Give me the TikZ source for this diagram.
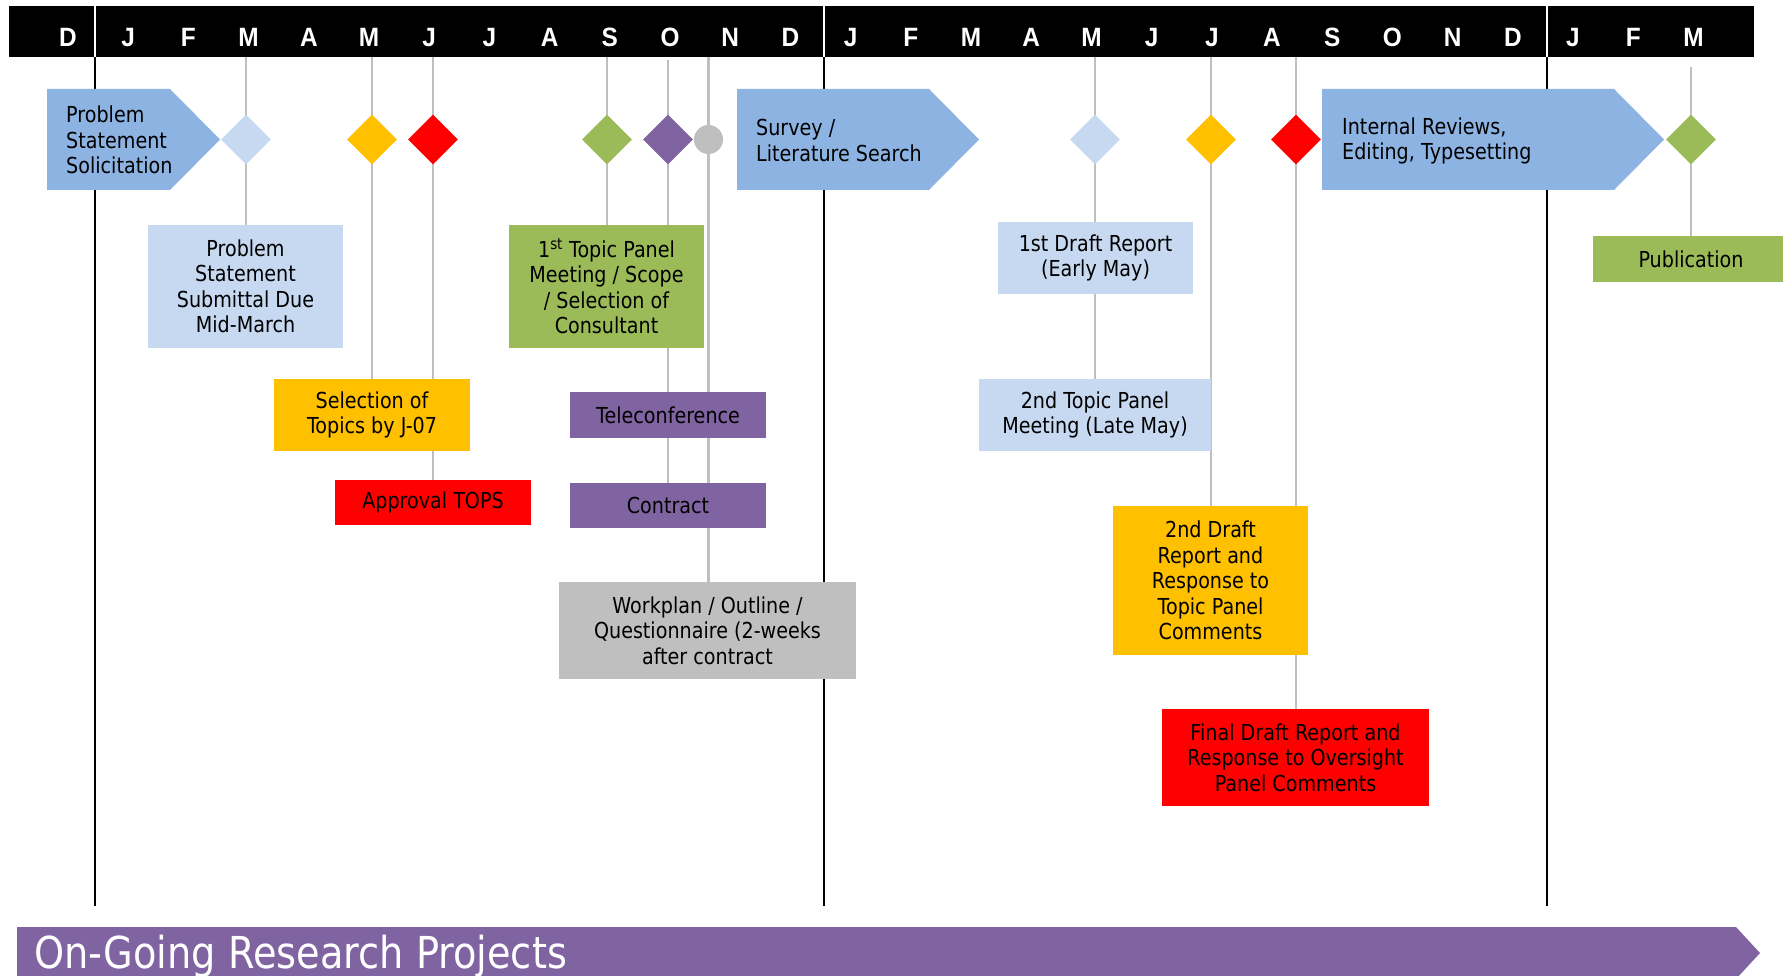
\documentclass[tikz,border=0pt]{standalone}
\usepackage{fontspec}
\setmainfont{DejaVu Sans}[FakeStretch=0.87]
\newfontfamily\monthfont{Liberation Sans}[FakeStretch=0.92]
\usetikzlibrary{shapes.geometric,backgrounds}
\definecolor{paleblue}{HTML}{C6D9F1}
\definecolor{phaseblue}{HTML}{8DB3E2}
\definecolor{amber}{HTML}{FFC000}
\definecolor{msgreen}{HTML}{9BBB59}
\definecolor{mspurple}{HTML}{8064A2}
\definecolor{msgray}{HTML}{BFBFBF}
\newcommand\boxfont{\fontsize{22pt}{25.5pt}\selectfont}
\begin{document}
\begin{tikzpicture}[x=1pt,y=-1pt,
  month/.style={text=white,font=\monthfont\fontsize{26.5pt}{26.5pt}\selectfont\bfseries,anchor=base,inner sep=0},
  milestone/.style={diamond,fill=#1,minimum size=50pt,inner sep=0},
  task/.style={fill=#1,minimum width=196pt,inner sep=0,align=center,text=black,font=\boxfont},
  phase/.style={fill=phaseblue},
  phasetext/.style={anchor=west,align=left,inner sep=0,font=\boxfont},
  link/.style={draw=msgray,line width=2.2pt},
  yearline/.style={line width=2.6pt}]
\useasboundingbox (0,0) rectangle (1783,976);
% time scale
\fill (9,6) rectangle (1754,57);
\foreach \m [count=\i from 0] in {D,J,F,M,A,M,J,J,A,S,O,N,D,J,F,M,A,M,J,J,A,S,O,N,D,J,F,M}
  \node[month] (m\i) at (68+60.2*\i,47) {\m};
\foreach \x [count=\i] in {95,824,1547} {
  \draw[white,line width=2pt] (\x,6) -- (\x,57);
  \coordinate (y\i) at (\x,57);
}
% phases
\fill[phase] (47,89) -- (170,89) -- (220,139.5) -- (170,190) -- (47,190) -- cycle;
\node[phasetext] (p1) at (66,140) {Problem\\Statement\\Solicitation};
\fill[phase] (737,89) -- (929,89) -- (979,139.5) -- (929,190) -- (737,190) -- cycle;
\node[phasetext] (p2) at (756,140.5) {Survey /\\Literature Search};
\fill[phase] (1322,89) -- (1614,89) -- (1664,139.5) -- (1614,190) -- (1322,190) -- cycle;
\node[phasetext] (p3) at (1342,141) {Internal Reviews,\\Editing, Typesetting};
% milestones
\node[milestone=paleblue] (d1) at (246,139.5) {};
\node[milestone=amber] (d2) at (372,139.5) {};
\node[milestone=red] (d3) at (433,139.5) {};
\node[milestone=msgreen] (d4) at (607,139.5) {};
\node[milestone=mspurple] (d5) at (668,139.5) {};
\node[circle,fill=msgray,minimum size=29pt,inner sep=0] (d6) at (708.5,139.5) {};
\node[milestone=paleblue] (d7) at (1095,139.5) {};
\node[milestone=amber] (d8) at (1211,139.5) {};
\node[milestone=red] (d9) at (1296,139.5) {};
\node[milestone=msgreen] (d10) at (1691,139.5) {};
% tasks
\node[task=paleblue,minimum width=195pt,minimum height=123pt] (b1) at (245.5,286.5) {Problem\\Statement\\Submittal Due\\Mid-March};
\node[task=amber,minimum height=72pt] (b2) at (372,415) {Selection of\\Topics by J-07};
\node[task=red,minimum height=45pt] (b3) at (433,502.5) {Approval TOPS};
\node[task=msgreen,minimum width=195pt,minimum height=123pt] (b4) at (606.5,286.5) {1\textsuperscript{st} Topic Panel\\Meeting / Scope\\/ Selection of\\Consultant};
\node[task=mspurple,minimum height=46pt] (b5) at (668,415) {Teleconference};
\node[task=mspurple,minimum height=45pt] (b6) at (668,505.5) {Contract};
\node[task=msgray,minimum width=297pt,minimum height=97pt] (b7) at (707.5,630.5) {Workplan / Outline /\\Questionnaire (2-weeks\\after contract};
\node[task=paleblue,minimum width=195pt,minimum height=72pt] (b8) at (1095.5,258) {1st Draft Report\\(Early May)};
\node[task=paleblue,minimum width=232pt,minimum height=72pt] (b9) at (1095,415) {2nd Topic Panel\\Meeting (Late May)};
\node[task=amber,minimum width=195pt,minimum height=149pt] (b10) at (1210.5,580.5) {2nd Draft\\Report and\\Response to\\Topic Panel\\Comments};
\node[task=red,minimum width=267pt,minimum height=97pt] (b11) at (1295.5,757.5) {Final Draft Report and\\Response to Oversight\\Panel Comments};
\node[task=msgreen,minimum height=46pt] (b12) at (1691,259) {Publication};
% connectors
\coordinate (t1) at (246,57);
\coordinate (t2) at (372,57);
\coordinate (t3) at (433,57);
\coordinate (t4) at (607,57);
\coordinate (t5) at (668,60);
\coordinate (t6) at (708.5,57);
\coordinate (t7) at (1095,57);
\coordinate (t8) at (1211,57);
\coordinate (t9) at (1296,57);
\coordinate (t10) at (1691,67);
\begin{scope}[on background layer]
  \foreach \i in {1,2,3} \draw[yearline] (y\i) -- ++(0,849);
  \draw[link] (t1) -- (t1 |- b1.north);
  \draw[link] (t2) -- (t2 |- b2.north);
  \draw[link] (t3) -- (t3 |- b3.north);
  \draw[link] (t4) -- (t4 |- b4.north);
  \draw[link] (t5) -- (t5 |- b6.north);
  \draw[link] (t6) -- (t6 |- b7.north);
  \draw[link] (t7) -- (t7 |- b9.north);
  \draw[link] (t8) -- (t8 |- b10.north);
  \draw[link] (t9) -- (t9 |- b11.north);
  \draw[link] (t10) -- (t10 |- b12.north);
\end{scope}
% ongoing work
\fill[mspurple] (17,927) -- (1736,927) -- (1760,953) -- (1736,979) -- (17,979) -- cycle;
\node[anchor=base west,inner sep=0,text=white,font=\fontsize{44pt}{44pt}\selectfont] (og) at (34,968) {On-Going Research Projects};
\end{tikzpicture}
\end{document}
